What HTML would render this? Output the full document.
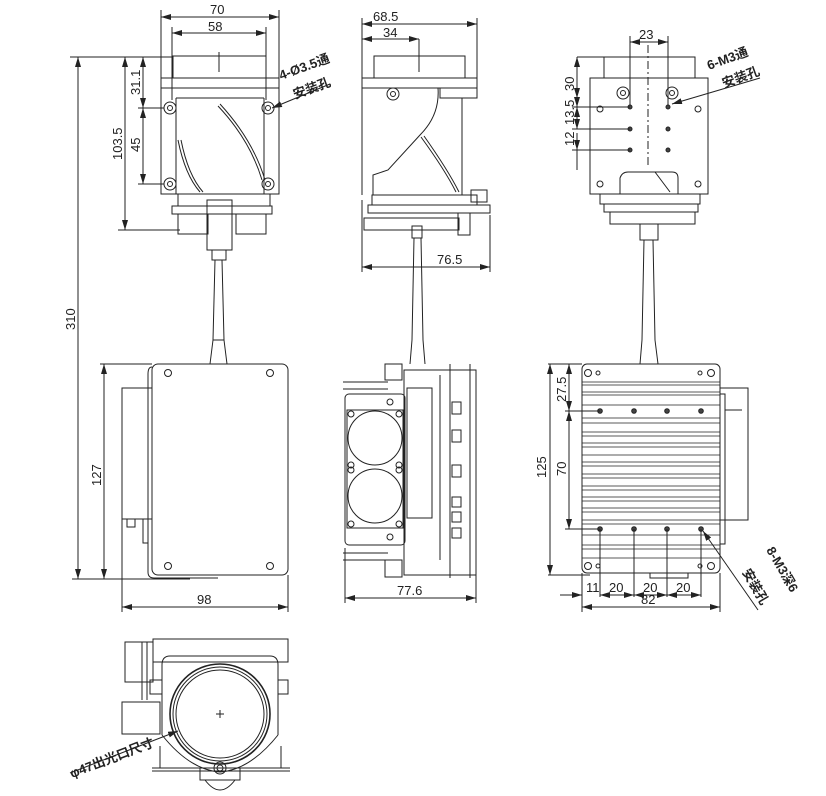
<!DOCTYPE html>
<html><head><meta charset="utf-8"><style>
html,body{margin:0;padding:0;background:#fff}
svg{display:block}
text{font-family:"Liberation Sans","Noto Sans CJK SC",sans-serif;font-size:13px;fill:#222}
</style></head><body>
<svg width="826" height="796" viewBox="0 0 826 796" xmlns="http://www.w3.org/2000/svg">
<defs>
<marker id="a" viewBox="0 0 10 6" refX="10" refY="3" markerWidth="10" markerHeight="6" orient="auto-start-reverse" markerUnits="userSpaceOnUse"><path d="M0,0L10,3L0,6z" fill="#222"/></marker>
</defs>
<g fill="none" stroke="#222" stroke-width="1">
<!-- ===== TOP LEFT VIEW ===== -->
<line x1="161" y1="10" x2="161" y2="78"/><line x1="279" y1="10" x2="279" y2="78"/>
<line x1="161" y1="17" x2="279" y2="17" marker-start="url(#a)" marker-end="url(#a)"/>
<line x1="172" y1="27" x2="172" y2="100"/><line x1="266" y1="27" x2="266" y2="100"/>
<line x1="172" y1="33" x2="266" y2="33" marker-start="url(#a)" marker-end="url(#a)"/>
<rect x="173" y="56" width="93" height="22"/>
<line x1="219" y1="52" x2="219" y2="72"/>
<rect x="161" y="78" width="118" height="10"/>
<rect x="161" y="88" width="118" height="106"/>
<line x1="176" y1="98" x2="176" y2="194"/><line x1="264" y1="98" x2="264" y2="194"/>
<line x1="176" y1="98" x2="264" y2="98"/>
<circle cx="170" cy="108" r="6"/><circle cx="170" cy="108" r="2.5"/>
<circle cx="268" cy="108" r="6"/><circle cx="268" cy="108" r="2.5"/>
<circle cx="170" cy="184" r="6"/><circle cx="170" cy="184" r="2.5"/>
<circle cx="268" cy="184" r="6"/><circle cx="268" cy="184" r="2.5"/>
<path d="M218,106 Q250,140 262,180"/><path d="M220,104 Q253,140 265,180"/>
<path d="M178,140 Q185,175 200,192"/><path d="M181,140 Q188,175 203,192"/>
<rect x="178" y="194" width="92" height="12"/>
<rect x="172" y="206" width="100" height="8"/>
<rect x="178" y="214" width="30" height="20"/><rect x="236" y="214" width="30" height="20"/>
<rect x="207" y="200" width="25" height="50"/>
<rect x="212" y="250" width="14" height="10"/>
<path d="M215,260 L213,340 L210,364 M222,260 L224,340 L227,364"/>
<line x1="213" y1="340" x2="224" y2="340"/>
<!-- 310 / 103.5 / 31.1 / 45 -->
<line x1="70" y1="57" x2="173" y2="57"/>
<line x1="78" y1="57" x2="78" y2="579" marker-start="url(#a)" marker-end="url(#a)"/>
<line x1="125" y1="57" x2="125" y2="230" marker-start="url(#a)" marker-end="url(#a)"/>
<line x1="118" y1="230" x2="180" y2="230"/>
<line x1="143" y1="57" x2="143" y2="108" marker-start="url(#a)" marker-end="url(#a)"/>
<line x1="143" y1="108" x2="143" y2="184" marker-start="url(#a)" marker-end="url(#a)"/>
<line x1="138" y1="108" x2="164" y2="108"/><line x1="138" y1="184" x2="164" y2="184"/>
<line x1="330" y1="84" x2="272" y2="108" marker-end="url(#a)"/>

<!-- ===== TOP MIDDLE VIEW ===== -->
<line x1="362" y1="18" x2="362" y2="78"/><line x1="477" y1="18" x2="477" y2="78"/>
<line x1="362" y1="24" x2="477" y2="24" marker-start="url(#a)" marker-end="url(#a)"/>
<line x1="362" y1="39" x2="419" y2="39" marker-start="url(#a)" marker-end="url(#a)"/>
<line x1="419" y1="39" x2="419" y2="72"/>
<rect x="374" y="56" width="91" height="22"/>
<rect x="362" y="78" width="115" height="10"/>
<rect x="440" y="88" width="37" height="10"/>
<line x1="362" y1="88" x2="362" y2="195"/><line x1="462" y1="98" x2="462" y2="195"/>
<circle cx="393" cy="94" r="6"/><circle cx="393" cy="94" r="2.5"/>
<path d="M438,88 Q440,115 420,135 L388,170 L373,175 L373,195"/>
<path d="M421,137 Q445,170 456,192"/><path d="M424,136 Q448,170 459,192"/>
<rect x="372" y="195" width="105" height="10"/>
<rect x="368" y="205" width="122" height="8"/>
<rect x="364" y="218" width="95" height="12"/>
<rect x="471" y="190" width="16" height="12"/>
<rect x="458" y="213" width="12" height="22"/>
<rect x="412" y="226" width="10" height="12"/>
<line x1="362" y1="200" x2="362" y2="272"/><line x1="490" y1="215" x2="490" y2="272"/>
<line x1="362" y1="267" x2="490" y2="267" marker-start="url(#a)" marker-end="url(#a)"/>
<path d="M414,238 L412,340 L410,364 M421,238 L423,340 L425,364"/>

<!-- ===== TOP RIGHT VIEW ===== -->
<line x1="630" y1="36" x2="630" y2="107"/><line x1="668" y1="36" x2="668" y2="107"/>
<line x1="630" y1="42" x2="668" y2="42" marker-start="url(#a)" marker-end="url(#a)"/>
<line x1="648" y1="45" x2="648" y2="165" stroke-dasharray="8,3,2,3"/>
<rect x="604" y="57" width="91" height="21"/>
<rect x="590" y="78" width="118" height="116"/>
<circle cx="623" cy="93" r="6"/><circle cx="623" cy="93" r="2.5"/>
<circle cx="672" cy="93" r="6"/><circle cx="672" cy="93" r="2.5"/>
<circle cx="600" cy="109" r="3"/><circle cx="698" cy="109" r="3"/>
<circle cx="600" cy="184" r="3"/><circle cx="698" cy="184" r="3"/>
<g fill="#444"><circle cx="630" cy="107" r="2"/><circle cx="668" cy="107" r="2"/><circle cx="630" cy="129" r="2"/><circle cx="668" cy="129" r="2"/><circle cx="630" cy="150" r="2"/><circle cx="668" cy="150" r="2"/></g>
<path d="M620,194 L620,178 Q622,172 628,172 L672,172 Q678,172 678,178 L678,194"/>
<line x1="655" y1="172" x2="670" y2="192"/>
<rect x="600" y="194" width="100" height="10"/>
<rect x="604" y="204" width="94" height="8"/>
<rect x="610" y="212" width="85" height="12"/>
<rect x="640" y="224" width="18" height="16"/>
<path d="M644,240 L642,340 L640,364 M653,240 L655,340 L658,364"/>
<line x1="577" y1="57" x2="604" y2="57"/>
<line x1="577" y1="57" x2="577" y2="98" marker-start="url(#a)" marker-end="url(#a)"/>
<line x1="572" y1="107" x2="630" y2="107"/><line x1="572" y1="129" x2="630" y2="129"/><line x1="572" y1="150" x2="630" y2="150"/>
<line x1="577" y1="98" x2="577" y2="107" marker-end="url(#a)"/>
<line x1="577" y1="107" x2="577" y2="129" marker-start="url(#a)" marker-end="url(#a)"/>
<line x1="577" y1="133" x2="577" y2="150" marker-end="url(#a)"/>
<line x1="577" y1="150" x2="577" y2="170"/>
<line x1="760" y1="78" x2="672" y2="104" marker-end="url(#a)"/>

<!-- ===== MIDDLE LEFT VIEW ===== -->
<rect x="152" y="364" width="136" height="211" rx="6"/>
<path d="M152,367 Q148,367 148,374 L148,572 Q148,578 154,578 L218,578"/>
<rect x="122" y="388" width="30" height="131"/>
<rect x="127" y="519" width="8" height="8"/><rect x="143" y="519" width="5" height="24"/>
<circle cx="168" cy="373" r="3.5"/><circle cx="270" cy="373" r="3.5"/>
<circle cx="168" cy="566" r="3.5"/><circle cx="270" cy="566" r="3.5"/>
<line x1="100" y1="364" x2="152" y2="364"/>
<line x1="72" y1="579" x2="190" y2="579"/>
<line x1="104" y1="364" x2="104" y2="579" marker-start="url(#a)" marker-end="url(#a)"/>
<line x1="122" y1="519" x2="122" y2="612"/><line x1="288" y1="575" x2="288" y2="612"/>
<line x1="122" y1="607" x2="288" y2="607" marker-start="url(#a)" marker-end="url(#a)"/>

<!-- ===== MIDDLE CENTER VIEW ===== -->
<rect x="345" y="394" width="60" height="151" rx="4"/>
<rect x="347" y="410" width="56" height="118"/>
<circle cx="375" cy="438" r="27"/><circle cx="375" cy="496" r="27"/>
<circle cx="351" cy="414" r="3"/><circle cx="399" cy="414" r="3"/><circle cx="351" cy="465" r="3"/><circle cx="399" cy="465" r="3"/>
<circle cx="351" cy="470" r="3"/><circle cx="399" cy="470" r="3"/><circle cx="351" cy="524" r="3"/><circle cx="399" cy="524" r="3"/>
<circle cx="390" cy="402" r="3"/><circle cx="390" cy="537" r="3"/>
<line x1="343" y1="382" x2="388" y2="382"/><line x1="343" y1="389" x2="388" y2="389"/>
<line x1="343" y1="553" x2="388" y2="553"/><line x1="343" y1="560" x2="388" y2="560"/>
<rect x="385" y="364" width="17" height="16"/><rect x="385" y="560" width="17" height="17"/>
<rect x="404" y="370" width="72" height="205"/>
<rect x="407" y="388" width="25" height="130"/>
<line x1="440" y1="375" x2="440" y2="560"/><line x1="450" y1="364" x2="450" y2="578"/><line x1="470" y1="364" x2="470" y2="578"/>
<rect x="452" y="402" width="9" height="12"/><rect x="452" y="430" width="9" height="12"/><rect x="452" y="465" width="9" height="12"/><rect x="452" y="497" width="9" height="10"/><rect x="452" y="512" width="9" height="10"/><rect x="452" y="528" width="9" height="10"/>
<line x1="345" y1="548" x2="345" y2="603"/><line x1="476" y1="575" x2="476" y2="603"/>
<line x1="345" y1="598" x2="476" y2="598" marker-start="url(#a)" marker-end="url(#a)"/>

<!-- ===== MIDDLE RIGHT VIEW ===== -->
<rect x="582" y="364" width="138" height="209" rx="5"/>
<g stroke-width="0.8">
<line x1="582" y1="382" x2="720" y2="382"/><line x1="582" y1="385" x2="720" y2="385"/>
<line x1="582" y1="392" x2="720" y2="392"/><line x1="582" y1="395" x2="720" y2="395"/>
<line x1="582" y1="405" x2="720" y2="405"/><line x1="582" y1="418" x2="720" y2="418"/>
<line x1="582" y1="423" x2="720" y2="423"/><line x1="582" y1="432" x2="720" y2="432"/>
<line x1="582" y1="436" x2="720" y2="436"/><line x1="582" y1="443" x2="720" y2="443"/>
<line x1="582" y1="447" x2="720" y2="447"/><line x1="582" y1="455" x2="720" y2="455"/>
<line x1="582" y1="462" x2="720" y2="462"/><line x1="582" y1="466" x2="720" y2="466"/>
<line x1="582" y1="474" x2="720" y2="474"/><line x1="582" y1="478" x2="720" y2="478"/>
<line x1="582" y1="486" x2="720" y2="486"/><line x1="582" y1="490" x2="720" y2="490"/>
<line x1="582" y1="497" x2="720" y2="497"/><line x1="582" y1="501" x2="720" y2="501"/>
<line x1="582" y1="508" x2="720" y2="508"/><line x1="582" y1="512" x2="720" y2="512"/>
<line x1="582" y1="520" x2="720" y2="520"/><line x1="582" y1="524" x2="720" y2="524"/>
<line x1="582" y1="535" x2="720" y2="535"/><line x1="582" y1="545" x2="720" y2="545"/>
<line x1="582" y1="549" x2="720" y2="549"/><line x1="582" y1="558" x2="720" y2="558"/>
</g>
<circle cx="588" cy="373" r="3.5"/><circle cx="711" cy="373" r="3.5"/><circle cx="588" cy="566" r="3.5"/><circle cx="711" cy="566" r="3.5"/>
<circle cx="598" cy="373" r="2"/><circle cx="700" cy="373" r="2"/><circle cx="598" cy="566" r="2"/><circle cx="700" cy="566" r="2"/>
<g fill="#444"><circle cx="600" cy="411" r="2.3"/><circle cx="634" cy="411" r="2.3"/><circle cx="667" cy="411" r="2.3"/><circle cx="701" cy="411" r="2.3"/>
<circle cx="600" cy="529" r="2.3"/><circle cx="634" cy="529" r="2.3"/><circle cx="667" cy="529" r="2.3"/><circle cx="701" cy="529" r="2.3"/></g>
<rect x="720" y="388" width="28" height="132"/>
<rect x="720" y="394" width="5" height="150"/>
<line x1="725" y1="410" x2="742" y2="410"/>
<rect x="650" y="573" width="38" height="5"/>
<line x1="548" y1="364" x2="582" y2="364"/>
<line x1="548" y1="575" x2="590" y2="575"/>
<line x1="550" y1="364" x2="550" y2="575" marker-start="url(#a)" marker-end="url(#a)"/>
<line x1="565" y1="411" x2="600" y2="411"/><line x1="565" y1="529" x2="600" y2="529"/>
<line x1="569" y1="364" x2="569" y2="411" marker-start="url(#a)" marker-end="url(#a)"/>
<line x1="569" y1="411" x2="569" y2="529" marker-start="url(#a)" marker-end="url(#a)"/>
<line x1="600" y1="529" x2="600" y2="597"/><line x1="634" y1="529" x2="634" y2="597"/><line x1="667" y1="529" x2="667" y2="597"/><line x1="701" y1="529" x2="701" y2="597"/>
<line x1="560" y1="595" x2="582" y2="595" marker-end="url(#a)"/>
<line x1="600" y1="595" x2="634" y2="595" marker-start="url(#a)" marker-end="url(#a)"/>
<line x1="634" y1="595" x2="667" y2="595" marker-start="url(#a)" marker-end="url(#a)"/>
<line x1="667" y1="595" x2="701" y2="595" marker-start="url(#a)" marker-end="url(#a)"/>
<line x1="582" y1="573" x2="582" y2="612"/><line x1="720" y1="573" x2="720" y2="612"/>
<line x1="582" y1="607" x2="720" y2="607" marker-start="url(#a)" marker-end="url(#a)"/>
<line x1="758" y1="610" x2="703" y2="531" marker-end="url(#a)"/>

<!-- ===== BOTTOM VIEW ===== -->
<rect x="153" y="639" width="135" height="23"/>
<rect x="125" y="642" width="28" height="40"/>
<line x1="142" y1="642" x2="142" y2="700"/><line x1="147" y1="642" x2="147" y2="700"/>
<rect x="122" y="702" width="38" height="32"/>
<path d="M162,665 Q162,656 170,656 L270,656 Q278,656 278,665 L278,735"/>
<line x1="162" y1="665" x2="162" y2="735"/>
<rect x="150" y="680" width="12" height="14"/><rect x="278" y="680" width="10" height="14"/>
<circle cx="220" cy="714" r="50" stroke-width="1.6"/>
<circle cx="220" cy="714" r="47"/>
<circle cx="220" cy="714" r="44"/>
<line x1="216" y1="714" x2="224" y2="714"/><line x1="220" y1="710" x2="220" y2="718"/>
<path d="M162,735 Q190,770 220,772 Q250,770 278,735"/>
<path d="M160,746 L160,768 M281,746 L281,768"/>
<line x1="152" y1="768" x2="290" y2="768"/><line x1="152" y1="771" x2="290" y2="771"/>
<rect x="200" y="768" width="40" height="12"/>
<circle cx="220" cy="768" r="6"/><circle cx="220" cy="768" r="3"/>
<path d="M205,780 Q220,800 235,780"/>
<line x1="70" y1="773" x2="178" y2="731" marker-end="url(#a)"/>
</g>

<!-- ===== TEXT ===== -->
<text x="210" y="14">70</text>
<text x="208" y="31">58</text>
<text x="373" y="21">68.5</text>
<text x="383" y="37">34</text>
<text x="639" y="39">23</text>
<text x="437" y="264">76.5</text>
<text x="197" y="604">98</text>
<text x="397" y="595">77.6</text>
<text x="641" y="604">82</text>
<text x="586" y="592" font-size="12">11</text>
<text x="609" y="592">20</text>
<text x="643" y="592">20</text>
<text x="676" y="592">20</text>
<g font-size="13">
<text transform="translate(75,330) rotate(-90)">310</text>
<text transform="translate(122,160) rotate(-90)">103.5</text>
<text transform="translate(140,95) rotate(-90)">31.1</text>
<text transform="translate(140,152) rotate(-90)">45</text>
<text transform="translate(101,486) rotate(-90)">127</text>
<text transform="translate(546,478) rotate(-90)">125</text>
<text transform="translate(566,402) rotate(-90)">27.5</text>
<text transform="translate(566,476) rotate(-90)">70</text>
<text transform="translate(574,91) rotate(-90)">30</text>
<text transform="translate(574,125) rotate(-90)">13.5</text>
<text transform="translate(574,146) rotate(-90)">12</text>
</g>
<g font-size="12" font-weight="bold">
<text transform="translate(281,80) rotate(-20)">4-Ø3.5通</text>
<text transform="translate(295,99) rotate(-20)">安装孔</text>
<text transform="translate(709,70) rotate(-20)">6-M3通</text>
<text transform="translate(724,88) rotate(-20)">安装孔</text>
<text transform="translate(766,550) rotate(60)">8-M3深6</text>
<text transform="translate(742,572) rotate(60)">安装孔</text>
<text transform="translate(72,778) rotate(-21)">φ47出光口尺寸</text>
</g>
</svg>
</body></html>
